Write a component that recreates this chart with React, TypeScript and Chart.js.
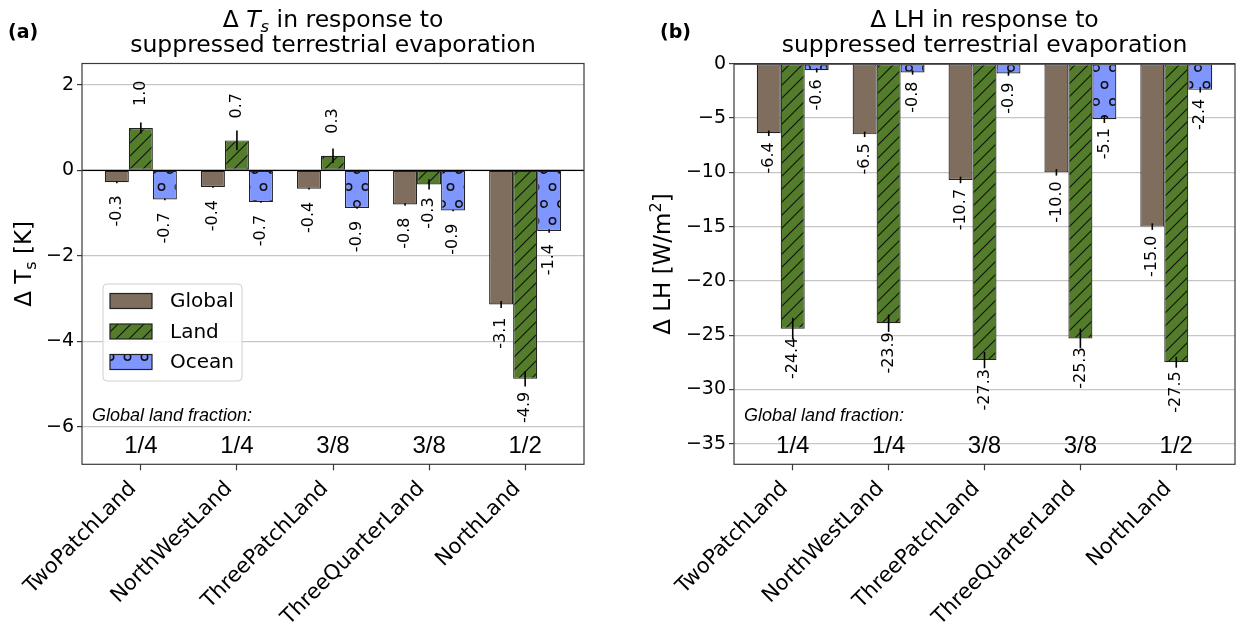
import { useEffect, useRef } from "react";
import { Chart, registerables } from "chart.js";

Chart.register(...registerables);

const sites = ["TwoPatchLand", "NorthWestLand", "ThreePatchLand", "ThreeQuarterLand", "NorthLand"];
const landFractions = ["1/4", "1/4", "3/8", "3/8", "1/2"];
const groups = ["Global", "Land", "Ocean"];
const colors = ["#7f6d5e", "#537d2b", "#8096ff"];

// (a) change in surface temperature [K]
const tsGlobal = [-0.28, -0.39, -0.43, -0.8, -3.14];
const tsLand = [0.99, 0.7, 0.34, -0.33, -4.88];
const tsOcean = [-0.68, -0.74, -0.88, -0.94, -1.42];
const tsGlobalErr = [0.02, 0.02, 0.02, 0.03, 0.08];
const tsLandErr = [0.13, 0.23, 0.17, 0.12, 0.18];
const tsOceanErr = [0.02, 0.02, 0.02, 0.02, 0.04];
const tsTicks = [-6, -4, -2, 0, 2];

// (b) change in latent heat flux [W/m2]
const lhGlobal = [-6.4, -6.5, -10.7, -10.0, -15.0];
const lhLand = [-24.4, -23.9, -27.3, -25.3, -27.5];
const lhOcean = [-0.6, -0.8, -0.9, -5.1, -2.4];
const lhGlobalErr = [0.25, 0.25, 0.3, 0.3, 0.3];
const lhLandErr = [1.0, 0.8, 0.75, 0.9, 0.5];
const lhOceanErr = [0.2, 0.2, 0.2, 0.35, 0.25];
const lhTicks = [-35, -30, -25, -20, -15, -10, -5, 0];

const FONT = '"DejaVu Sans", sans-serif';
const H = 623;

type Seg = { t: string; it?: boolean; sub?: boolean; sup?: boolean };

type PanelSpec = {
  letter: string;
  left: number;
  width: number;
  plot: { left: number; right: number; top: number; bottom: number };
  yAxisW: number;
  yMin: number;
  yMax: number;
  ticks: number[];
  series: number[][];
  errors: number[][];
  title: Seg[];
  yLabel: Seg[];
  yLabelX: number;
  gapNeg: number;
  gapPos: number;
  legend: boolean;
};

const panelA: PanelSpec = {
  letter: "(a)",
  left: 0,
  width: 620,
  plot: { left: 82, right: 584, top: 63.5, bottom: 464.3 },
  yAxisW: 60,
  yMin: -6.88,
  yMax: 2.5,
  ticks: tsTicks,
  series: [tsGlobal, tsLand, tsOcean],
  errors: [tsGlobalErr, tsLandErr, tsOceanErr],
  title: [{ t: "Δ " }, { t: "T", it: true }, { t: "s", it: true, sub: true }, { t: " in response to" }],
  yLabel: [{ t: "Δ T" }, { t: "s", sub: true }, { t: " [K]" }],
  yLabelX: 23,
  gapNeg: 13,
  gapPos: 22,
  legend: true,
};

const panelB: PanelSpec = {
  letter: "(b)",
  left: 620,
  width: 619,
  plot: { left: 114, right: 615, top: 63.8, bottom: 464.3 },
  yAxisW: 70,
  yMin: -36.9,
  yMax: 0,
  ticks: lhTicks,
  series: [lhGlobal, lhLand, lhOcean],
  errors: [lhGlobalErr, lhLandErr, lhOceanErr],
  title: [{ t: "Δ LH in response to" }],
  yLabel: [{ t: "Δ LH [W/m" }, { t: "2", sup: true }, { t: "]" }],
  yLabelX: 42,
  gapNeg: 9,
  gapPos: 9,
  legend: false,
};

function makePattern(kind: string, color: string): CanvasPattern | string {
  const s = kind === "dots" ? 17 : 13;
  const c = document.createElement("canvas");
  c.width = s;
  c.height = kind === "dots" ? 2 * s : s;
  const g = c.getContext("2d");
  if (!g) return color;
  g.fillStyle = color;
  g.fillRect(0, 0, c.width, c.height);
  g.strokeStyle = "#111";
  if (kind === "hatch") {
    g.lineWidth = 1.1;
    g.beginPath();
    g.moveTo(-2, s + 2);
    g.lineTo(s + 2, -2);
    g.moveTo(-2, 2);
    g.lineTo(2, -2);
    g.moveTo(s - 2, s + 2);
    g.lineTo(s + 2, s - 2);
    g.stroke();
  } else {
    g.lineWidth = 1.5;
    const pts = [[0, 0], [s, 0], [0, 2 * s], [s, 2 * s], [s / 2, s]];
    for (const [x, y] of pts) {
      g.beginPath();
      g.arc(x, y, 3.2, 0, Math.PI * 2);
      g.stroke();
    }
  }
  return g.createPattern(c, "repeat") || color;
}

function segFont(s: Seg, size: number) {
  const sz = s.sub || s.sup ? size * 0.7 : size;
  return `${s.it ? "italic " : ""}${sz}px ${FONT}`;
}

function segsWidth(ctx: CanvasRenderingContext2D, segs: Seg[], size: number) {
  let w = 0;
  for (const s of segs) {
    ctx.font = segFont(s, size);
    w += ctx.measureText(s.t).width;
  }
  return w;
}

function drawSegs(ctx: CanvasRenderingContext2D, segs: Seg[], x: number, y: number, size: number) {
  let cx = x;
  for (const s of segs) {
    ctx.font = segFont(s, size);
    const dy = s.sub ? size * 0.2 : s.sup ? -size * 0.4 : 0;
    ctx.fillText(s.t, cx, y + dy);
    cx += ctx.measureText(s.t).width;
  }
}

const fmtTick = (v: number) => (v < 0 ? "\u2212" + Math.abs(v) : String(v));

function decorPlugin(spec: PanelSpec, fills: (CanvasPattern | string)[]) {
  return {
    id: "decor" + spec.letter,
    beforeDatasetsDraw(chart: any) {
      const { ctx, chartArea: a } = chart;
      const y0 = chart.scales.y.getPixelForValue(0);
      ctx.save();
      ctx.strokeStyle = "#000";
      ctx.lineWidth = 1.2;
      ctx.beginPath();
      ctx.moveTo(a.left, y0);
      ctx.lineTo(a.right, y0);
      ctx.stroke();
      ctx.restore();
    },
    afterDatasetsDraw(chart: any) {
      const { ctx } = chart;
      const ys = chart.scales.y;
      ctx.save();
      spec.series.forEach((vals, k) => {
        const meta = chart.getDatasetMeta(k);
        vals.forEach((v, i) => {
          const el = meta.data[i];
          const e = spec.errors[k][i];
          ctx.strokeStyle = "#000";
          ctx.lineWidth = 1.6;
          ctx.beginPath();
          ctx.moveTo(el.x, ys.getPixelForValue(v - e));
          ctx.lineTo(el.x, ys.getPixelForValue(v + e));
          ctx.stroke();
        });
      });
      ctx.fillStyle = "#000";
      ctx.font = `16px ${FONT}`;
      ctx.textBaseline = "middle";
      spec.series.forEach((vals, k) => {
        const meta = chart.getDatasetMeta(k);
        vals.forEach((v, i) => {
          const el = meta.data[i];
          const py = ys.getPixelForValue(v);
          ctx.save();
          if (v < 0) {
            ctx.translate(el.x, py + spec.gapNeg);
            ctx.rotate(-Math.PI / 2);
            ctx.textAlign = "right";
          } else {
            ctx.translate(el.x, py - spec.gapPos);
            ctx.rotate(-Math.PI / 2);
            ctx.textAlign = "left";
          }
          ctx.fillText(v.toFixed(1), 0, 0);
          ctx.restore();
        });
      });
      ctx.restore();
    },
    afterDraw(chart: any) {
      const { ctx, chartArea: a } = chart;
      const xs = chart.scales.x;
      const mid = (a.left + a.right) / 2;
      ctx.save();
      ctx.fillStyle = "#000";
      ctx.textAlign = "left";
      ctx.textBaseline = "alphabetic";

      // frame
      ctx.strokeStyle = "#3a3a3a";
      ctx.lineWidth = 1.2;
      ctx.strokeRect(a.left, a.top, a.right - a.left, a.bottom - a.top);

      // title
      const ts = 23.5;
      const w1 = segsWidth(ctx, spec.title, ts);
      drawSegs(ctx, spec.title, mid - w1 / 2, 27, ts);
      const line2: Seg[] = [{ t: "suppressed terrestrial evaporation" }];
      const w2 = segsWidth(ctx, line2, ts);
      drawSegs(ctx, line2, mid - w2 / 2, 52, ts);

      // panel letter
      ctx.font = `bold 19px ${FONT}`;
      ctx.fillText(spec.letter, spec.letter === "(a)" ? 8 : 40, 38);

      // y label
      ctx.save();
      ctx.translate(spec.yLabelX, (a.top + a.bottom) / 2);
      ctx.rotate(-Math.PI / 2);
      const wy = segsWidth(ctx, spec.yLabel, 23);
      drawSegs(ctx, spec.yLabel, -wy / 2, 8, 23);
      ctx.restore();

      // x tick labels
      ctx.font = `21px ${FONT}`;
      ctx.textAlign = "right";
      sites.forEach((name, i) => {
        const x = xs.getPixelForValue(i);
        ctx.save();
        ctx.translate(x - 4, a.bottom + 25);
        ctx.rotate(-Math.PI / 4);
        ctx.fillText(name, 0, 0);
        ctx.restore();
      });

      // land fractions
      ctx.textAlign = "left";
      ctx.font = `italic 18px "Liberation Sans", Arial, sans-serif`;
      ctx.fillText("Global land fraction:", a.left + 10, 421);
      ctx.textAlign = "center";
      ctx.font = `24px "Liberation Sans", Arial, sans-serif`;
      landFractions.forEach((f, i) => {
        ctx.fillText(f, xs.getPixelForValue(i), 453);
      });

      // legend
      if (spec.legend) {
        const bx = 103, by = 284, bw = 139, bh = 97;
        ctx.fillStyle = "rgba(255,255,255,0.85)";
        ctx.strokeStyle = "#d0d0d0";
        ctx.lineWidth = 1;
        ctx.beginPath();
        ctx.roundRect(bx, by, bw, bh, 4);
        ctx.fill();
        ctx.stroke();
        const rows = [301, 331.5, 362];
        groups.forEach((g, k) => {
          ctx.fillStyle = fills[k] as any;
          ctx.fillRect(110, rows[k] - 7.5, 42, 15);
          ctx.strokeStyle = "#222";
          ctx.lineWidth = 1.2;
          ctx.strokeRect(110, rows[k] - 7.5, 42, 15);
          ctx.fillStyle = "#000";
          ctx.font = `20px ${FONT}`;
          ctx.textAlign = "left";
          ctx.textBaseline = "middle";
          ctx.fillText(g, 170, rows[k] + 1);
        });
      }
      ctx.restore();
    },
  };
}

function Panel({ spec }: { spec: PanelSpec }) {
  const ref = useRef<HTMLCanvasElement | null>(null);

  useEffect(() => {
    const canvas = ref.current;
    if (!canvas) return;
    const fills = [colors[0], makePattern("hatch", colors[1]), makePattern("dots", colors[2])];
    const xAxisH = 150;
    const p = spec.plot;
    const chart = new Chart(canvas, {
      type: "bar",
      data: {
        datasets: spec.series.map((vals, k) => ({
          label: groups[k],
          data: vals.map((v, i) => ({ x: i, y: v })),
          backgroundColor: fills[k] as any,
          borderColor: "#222",
          borderWidth: 1.2,
          borderSkipped: false,
          categoryPercentage: 0.75,
          barPercentage: 1,
        })),
      },
      options: {
        responsive: false,
        animation: false,
        layout: {
          padding: {
            left: p.left - spec.yAxisW,
            right: spec.width - p.right,
            top: p.top,
            bottom: H - p.bottom - xAxisH,
          },
        },
        plugins: {
          legend: { display: false },
          tooltip: { enabled: false },
          title: { display: false },
        },
        scales: {
          x: {
            type: "linear",
            min: -0.6125,
            max: 4.6125,
            offset: false,
            afterBuildTicks: (s: any) => {
              s.ticks = sites.map((_, i) => ({ value: i }));
            },
            afterFit: (s: any) => {
              s.height = xAxisH;
              s.paddingLeft = 0;
              s.paddingRight = 0;
            },
            ticks: { display: false },
            grid: {
              offset: false,
              drawOnChartArea: false,
              drawTicks: true,
              tickLength: 6,
              tickColor: "#3a3a3a",
              tickWidth: 1.2,
            },
            border: { display: false },
          },
          y: {
            type: "linear",
            min: spec.yMin,
            max: spec.yMax,
            afterBuildTicks: (s: any) => {
              s.ticks = spec.ticks.map((v) => ({ value: v }));
            },
            afterFit: (s: any) => {
              s.width = spec.yAxisW;
            },
            ticks: {
              color: "#000",
              padding: 3,
              font: { family: "DejaVu Sans", size: 19 },
              callback: (v: any) => fmtTick(Number(v)),
            },
            grid: {
              color: "#c6c6c6",
              lineWidth: 1.2,
              tickLength: 5,
              tickColor: "#3a3a3a",
              tickWidth: 1.2,
            },
            border: { display: false },
          },
        } as any,
      },
      plugins: [decorPlugin(spec, fills)],
    });
    return () => chart.destroy();
  }, [spec]);

  return (
    <canvas
      ref={ref}
      width={spec.width}
      height={H}
      style={{ position: "absolute", left: spec.left, top: 0, width: spec.width, height: H }}
    />
  );
}

export default function App() {
  useEffect(() => {
    document.body.style.margin = "0";
  }, []);
  return (
    <div style={{ position: "relative", width: 1239, height: H, background: "#fff" }}>
      <Panel spec={panelA} />
      <Panel spec={panelB} />
    </div>
  );
}
